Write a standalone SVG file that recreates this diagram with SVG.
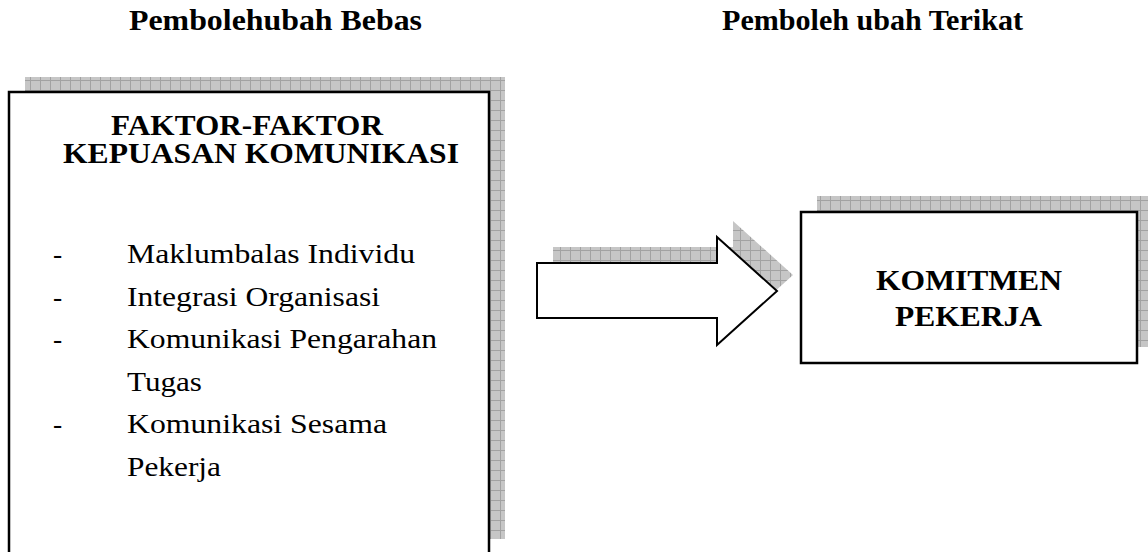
<svg xmlns="http://www.w3.org/2000/svg" width="1148" height="552" viewBox="0 0 1148 552">
<defs>
<pattern id="grid" x="0" y="0" width="10" height="10" patternUnits="userSpaceOnUse">
<rect width="10" height="10" fill="#c6c6c6"/>
<path d="M0 0.5H10M0.5 0V10" stroke="#a2a2a2" stroke-width="1" fill="none"/>
</pattern>
<style>
.shadow{fill:url(#grid);stroke:none}
.box{fill:#fff;stroke:#000;stroke-width:2.5}
.arrow{fill:#fff;stroke:#000;stroke-width:2;stroke-linejoin:miter}
.b{font-family:"Liberation Serif","Times New Roman",serif;font-weight:bold;font-size:29px;fill:#000}
.r{font-family:"Liberation Serif","Times New Roman",serif;font-size:27.5px;fill:#000}
</style>
</defs>
<rect width="1148" height="552" fill="#fff"/>
<g id="titles">
<text class="b" x="129" y="30" textLength="293" lengthAdjust="spacingAndGlyphs">Pembolehubah Bebas</text>
<text class="b" x="722" y="30" textLength="301" lengthAdjust="spacingAndGlyphs">Pemboleh ubah Terikat</text>
</g>
<g id="node-faktor">
<rect class="shadow" x="25" y="77" width="480" height="462"/>
<rect class="box" x="9" y="92" width="480" height="470"/>
<text class="b" x="111" y="135" textLength="272" lengthAdjust="spacingAndGlyphs">FAKTOR-FAKTOR</text>
<text class="b" x="63" y="163" textLength="396" lengthAdjust="spacingAndGlyphs">KEPUASAN KOMUNIKASI</text>
<text class="r" x="53" y="263">-</text>
<text class="r" x="127" y="263" textLength="288" lengthAdjust="spacingAndGlyphs">Maklumbalas Individu</text>
<text class="r" x="53" y="305.5">-</text>
<text class="r" x="127" y="305.5" textLength="253" lengthAdjust="spacingAndGlyphs">Integrasi Organisasi</text>
<text class="r" x="53" y="348">-</text>
<text class="r" x="127" y="348" textLength="310" lengthAdjust="spacingAndGlyphs">Komunikasi Pengarahan</text>
<text class="r" x="127" y="390.5" textLength="75" lengthAdjust="spacingAndGlyphs">Tugas</text>
<text class="r" x="53" y="433">-</text>
<text class="r" x="127" y="433" textLength="260" lengthAdjust="spacingAndGlyphs">Komunikasi Sesama</text>
<text class="r" x="127" y="475.5" textLength="94" lengthAdjust="spacingAndGlyphs">Pekerja</text>
</g>
<g id="node-komitmen">
<rect class="shadow" x="817" y="196" width="336" height="151"/>
<rect class="box" x="801" y="212" width="336" height="151"/>
<text class="b" x="876" y="290" textLength="186" lengthAdjust="spacingAndGlyphs">KOMITMEN</text>
<text class="b" x="895" y="326" textLength="147" lengthAdjust="spacingAndGlyphs">PEKERJA</text>
</g>
<g id="connectors">
<polygon class="shadow" points="553,247 733,247 733,221 793,275 733,329 733,302 553,302"/>
<polygon class="arrow" points="537,263 717,263 717,237 777,291 717,345 717,318 537,318"/>
</g>
</svg>
